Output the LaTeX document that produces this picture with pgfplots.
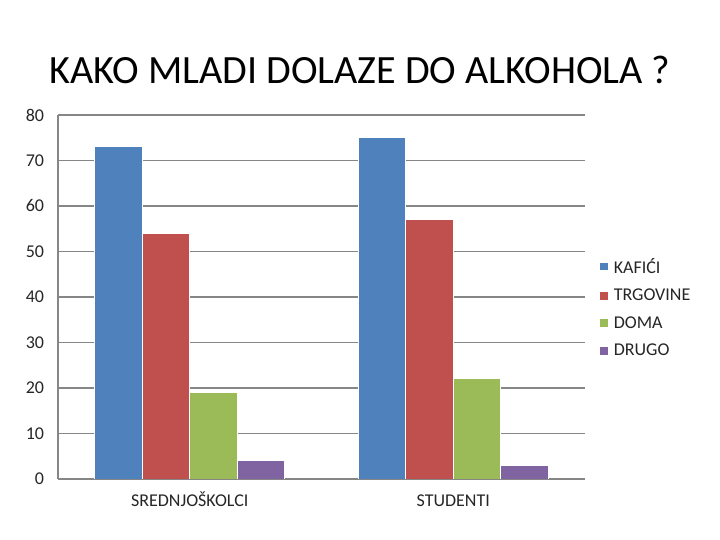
\documentclass[border=0pt]{standalone}
\usepackage{pgfplots}
\pgfplotsset{compat=1.18}
\usepackage{fontspec}
\setmainfont{Carlito}
\definecolor{cA}{HTML}{4F81BD}
\definecolor{cB}{HTML}{C0504D}
\definecolor{cC}{HTML}{9BBB59}
\definecolor{cD}{HTML}{8064A2}
\definecolor{gridc}{HTML}{868686}
\begin{document}
\begin{tikzpicture}[x=0.254mm,y=0.254mm]
\path[use as bounding box] (0,0) rectangle (720,540);
\node[font=\fontsize{29}{34}\selectfont] at (360,470) {KAKO MLADI DOLAZE DO ALKOHOLA ?};
\begin{axis}[
  at={(1.4732cm,1.5494cm)}, anchor=south west,
  scale only axis, width=13.386cm, height=9.2456cm,
  ybar, bar width=0.18,
  xmin=-0.5, xmax=1.5, ymin=0, ymax=80,
  xtick={0,1}, xticklabels={SREDNJOŠKOLCI, STUDENTI},
  ytick={0,10,...,80},
  axis x line*=bottom, axis y line*=left,
  axis line style={gridc, line width=1.3pt, -},
  major tick length=0pt,
  ymajorgrids, grid style={gridc, line width=1.3pt},
  tick label style={font=\fontsize{13}{15}\selectfont, text=black!85},
  /pgf/number format/assume math mode=true,
  yticklabel style={xshift=-2.3mm},
  xticklabel style={yshift=-3.0mm, text height=1.6ex, text depth=0.3ex},
  legend style={draw=none, at={(1.02,0.47)}, anchor=west,
    font=\fontsize{13}{15}\selectfont, row sep=6pt, text=black!85},
  legend cell align=left,
  legend image code/.code={\fill[#1,draw=none] (0.03cm,-0.1cm) rectangle (0.23cm,0.1cm); \path (0.3cm,0);},
]
\addplot[fill=cA, draw=white, line width=0.6pt, bar shift=-0.27] coordinates {(0,73) (1,75)};
\addplot[fill=cB, draw=white, line width=0.6pt, bar shift=-0.09] coordinates {(0,54) (1,57)};
\addplot[fill=cC, draw=white, line width=0.6pt, bar shift=0.09] coordinates {(0,19) (1,22)};
\addplot[fill=cD, draw=white, line width=0.6pt, bar shift=0.27] coordinates {(0,4) (1,3)};
\legend{KAFIĆI, TRGOVINE, DOMA, DRUGO}
\end{axis}
\end{tikzpicture}
\end{document}
